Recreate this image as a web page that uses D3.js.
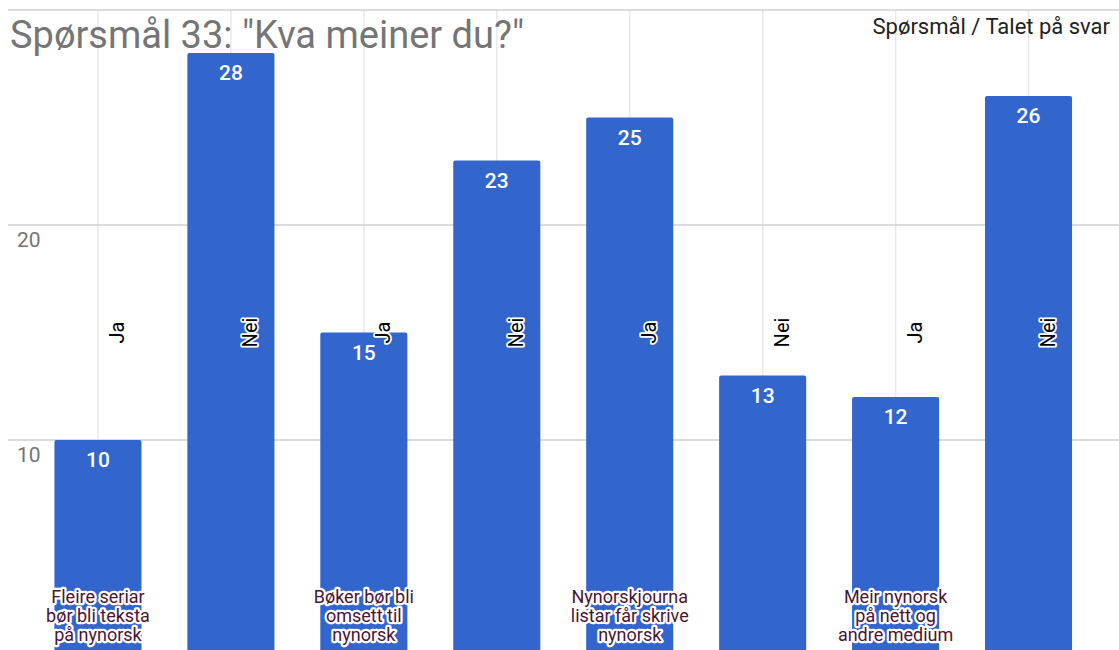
<!DOCTYPE html>
<html>
<head>
	<meta charset="utf-8">
	<script src="https://cdnjs.cloudflare.com/ajax/libs/d3/7.8.5/d3.min.js"></script>
	<style>
	body { margin: 0; background: #fff; }
	text { font-family: Roboto, "Noto Sans", sans-serif; }
	</style>
</head>
<body>
	<svg width="1119" height="650"></svg>
	<script>
	// data
	let questions = [
		["Fleire seriar", "bør bli teksta", "på nynorsk"],
		["Bøker bør bli", "omsett til", "nynorsk"],
		["Nynorskjourna", "listar får skrive", "nynorsk"],
		["Meir nynorsk", "på nett og", "andre medium"]
	];
	let answers = ["Ja", "Nei"];
	let jaValues = [10, 15, 25, 12];
	let neiValues = [28, 23, 13, 26];
	let yTicks = [10, 20];

	//flatten into bar list
	let bars = [];
	questions.forEach(function(q, i) {
		bars.push({key: i + "-Ja", answer: answers[0], value: jaValues[i], label: q});
		bars.push({key: i + "-Nei", answer: answers[1], value: neiValues[i], label: null});
	});

	let svg = d3.select("svg");

	//scales
	let x = d3.scaleBand()
		.domain(bars.map(function(d) { return d.key; }))
		.range([31.5, 1095])
		.paddingInner(0.345)
		.paddingOuter(0.1725);

	let y = d3.scaleLinear().domain([0, 30]).range([655, 10]);

	//vertical gridlines through bar centres
	svg.append("g").selectAll("line")
		.data(bars)
		.enter().append("line")
		.attr("x1", function(d) { return x(d.key) + x.bandwidth() / 2; })
		.attr("x2", function(d) { return x(d.key) + x.bandwidth() / 2; })
		.attr("y1", y(30))
		.attr("y2", 650)
		.style("stroke", "#e8e8e8")
		.style("stroke-width", 1.5);

	//horizontal gridlines
	svg.append("g").selectAll("line")
		.data([10, 20, 30])
		.enter().append("line")
		.attr("x1", 8)
		.attr("x2", 1119)
		.attr("y1", function(d) { return y(d); })
		.attr("y2", function(d) { return y(d); })
		.style("stroke", "#d0d0d0")
		.style("stroke-width", 1.5);

	//tick labels
	svg.append("g").selectAll("text")
		.data(yTicks)
		.enter().append("text")
		.attr("x", 17)
		.attr("y", function(d) { return y(d) + 22; })
		.style("font-size", "21px")
		.style("fill", "#757575")
		.text(function(d) { return d; });

	//bars
	svg.append("g").selectAll("rect")
		.data(bars)
		.enter().append("rect")
		.attr("x", function(d) { return x(d.key); })
		.attr("y", function(d) { return y(d.value); })
		.attr("width", x.bandwidth())
		.attr("height", function(d) { return y(0) - y(d.value) + 5; })
		.attr("rx", 2)
		.style("fill", "#3366cc");

	//value labels
	svg.append("g").selectAll("text")
		.data(bars)
		.enter().append("text")
		.attr("x", function(d) { return x(d.key) + x.bandwidth() / 2; })
		.attr("y", function(d) { return y(d.value) + 27; })
		.attr("text-anchor", "middle")
		.style("font-size", "21px")
		.style("font-weight", "500")
		.style("fill", "#fff")
		.text(function(d) { return d.value; });

	//rotated answer labels, centred at mid axis
	let ans = svg.append("g").selectAll("g")
		.data(bars)
		.enter().append("g")
		.attr("transform", function(d) {
			return "translate(" + (x(d.key) + x.bandwidth() / 2 + 26) + "," + y(15) + ") rotate(-90)";
		});
	ans.append("text")
		.attr("text-anchor", "middle")
		.style("font-size", "20px")
		.style("fill", "none")
		.style("stroke", "#fff")
		.style("stroke-width", 3.5)
		.style("stroke-linejoin", "round")
		.text(function(d) { return d.answer; });
	ans.append("text")
		.attr("text-anchor", "middle")
		.style("font-size", "20px")
		.style("fill", "#000")
		.text(function(d) { return d.answer; });

	//category labels at bottom
	let cat = svg.append("g").selectAll("g")
		.data(bars.filter(function(d) { return d.label; }))
		.enter().append("g")
		.attr("transform", function(d) { return "translate(" + (x(d.key) + x.bandwidth() / 2) + ",603)"; });
	[["#fff", 4.5], ["#4a1535", 0]].forEach(function(st) {
		let t = cat.append("text")
			.attr("text-anchor", "middle")
			.style("font-size", "18px")
			.style("fill", st[1] ? "none" : st[0])
			.style("stroke", st[1] ? st[0] : "none")
			.style("stroke-width", st[1])
			.style("stroke-linejoin", "round");
		t.selectAll("tspan")
			.data(function(d) { return d.label; })
			.enter().append("tspan")
			.attr("x", 0)
			.attr("y", function(l, i) { return i * 19; })
			.text(function(l) { return l; });
	});

	//title
	svg.append("text")
		.attr("x", 10)
		.attr("y", 48)
		.style("font-size", "38px")
		.style("fill", "#757575")
		.text("Spørsmål 33: \"Kva meiner du?\"");

	svg.append("text")
		.attr("x", 1110)
		.attr("y", 34)
		.attr("text-anchor", "end")
		.style("font-size", "22px")
		.style("fill", "#222")
		.text("Spørsmål / Talet på svar");
	</script>
</body>
</html>
